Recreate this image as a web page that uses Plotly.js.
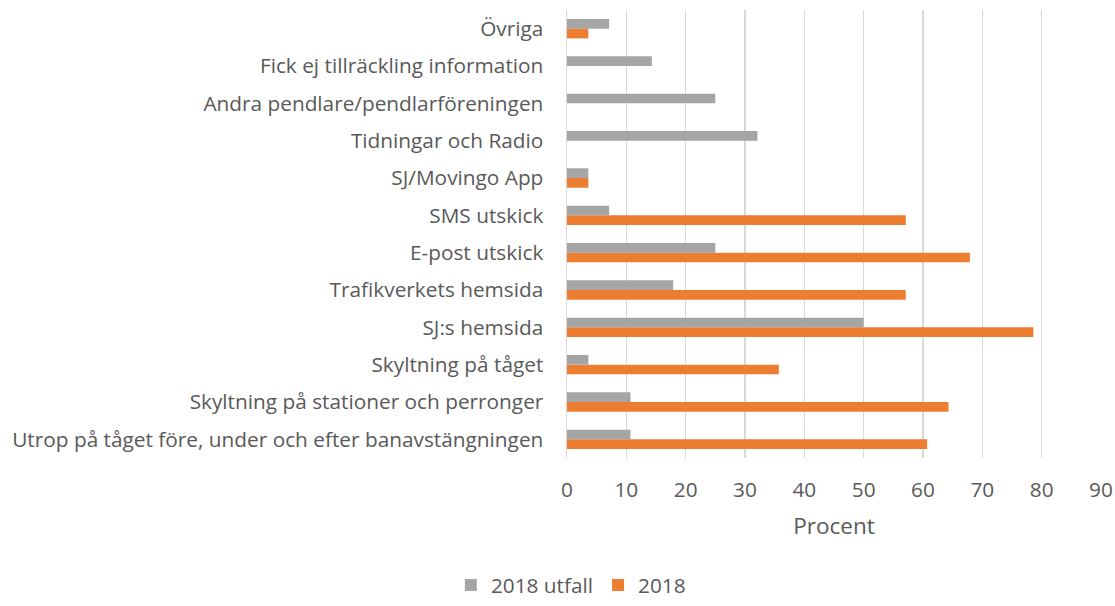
<!DOCTYPE html>
<html>
<head>
<meta charset="utf-8">
<script src="https://cdn.plot.ly/plotly-3.0.1.min.js"></script>
<style>html,body{margin:0;padding:0;background:#fff;}#chart{width:1115px;height:606px;}</style>
</head>
<body>
<div id="chart"></div>
<script>
// Categories listed bottom-to-top
const categories = [
  "Utrop på tåget före, under och efter banavstängningen",
  "Skyltning på stationer och perronger",
  "Skyltning på tåget",
  "SJ:s hemsida",
  "Trafikverkets hemsida",
  "E-post utskick",
  "SMS utskick",
  "SJ/Movingo App",
  "Tidningar och Radio",
  "Andra pendlare/pendlarföreningen",
  "Fick ej tillräckling information",
  "Övriga"
];
const utfall2018 = [10.7, 10.7, 3.6, 50.0, 17.9, 25.0, 7.1, 3.6, 32.1, 25.0, 14.3, 7.1];
const values2018 = [60.7, 64.3, 35.7, 78.6, 57.1, 67.9, 57.1, 3.6, null, null, null, 3.6];
const xTicks = [0, 10, 20, 30, 40, 50, 60, 70, 80, 90];
const seriesNames = ["2018 utfall", "2018"];

const fontFam = "'Open Sans', Lato, sans-serif";
const txt = "#595959";

const traces = [
  {
    type: "bar", orientation: "h", name: seriesNames[1],
    y: categories, x: values2018,
    marker: {color: "#ED7D31"}, legendrank: 2, hoverinfo: "x+y"
  },
  {
    type: "bar", orientation: "h", name: seriesNames[0],
    y: categories, x: utfall2018,
    marker: {color: "#A5A5A5"}, legendrank: 1, hoverinfo: "x+y"
  }
];

const layout = {
  width: 1115, height: 606,
  margin: {l: 567, r: 14, t: 10, b: 148},
  paper_bgcolor: "#fff", plot_bgcolor: "#fff",
  barmode: "group", bargap: 0.48, bargroupgap: 0,
  font: {family: fontFam, color: txt, size: 20.8},
  xaxis: {
    range: [0, 90], tickvals: xTicks, ticktext: xTicks.map(String),
    showgrid: true, gridcolor: "#d9d9d9", gridwidth: 1.5,
    zeroline: false, showline: false, ticks: "",
    ticklabelstandoff: 17,
    tickfont: {size: 20.8, color: txt, family: fontFam},
    title: {text: "Procent", font: {size: 22.5, color: txt, family: fontFam}, standoff: 16},
    fixedrange: true
  },
  yaxis: {
    type: "category", categoryorder: "array", categoryarray: categories,
    showgrid: false, zeroline: false, showline: true, linecolor: "#d9d9d9", linewidth: 1.5,
    ticks: "", ticklabelstandoff: 18,
    tickfont: {size: 20.8, color: txt, family: fontFam},
    fixedrange: true
  },
  showlegend: true,
  legend: {
    orientation: "h", xref: "container", yref: "container",
    x: 0.512, xanchor: "center", y: -0.011, yanchor: "bottom",
    font: {size: 20.8, color: txt, family: fontFam},
    itemwidth: 30, traceorder: "normal"
  }
};

Plotly.newPlot("chart", traces, layout, {displayModeBar: false, staticPlot: true});
</script>
</body>
</html>
